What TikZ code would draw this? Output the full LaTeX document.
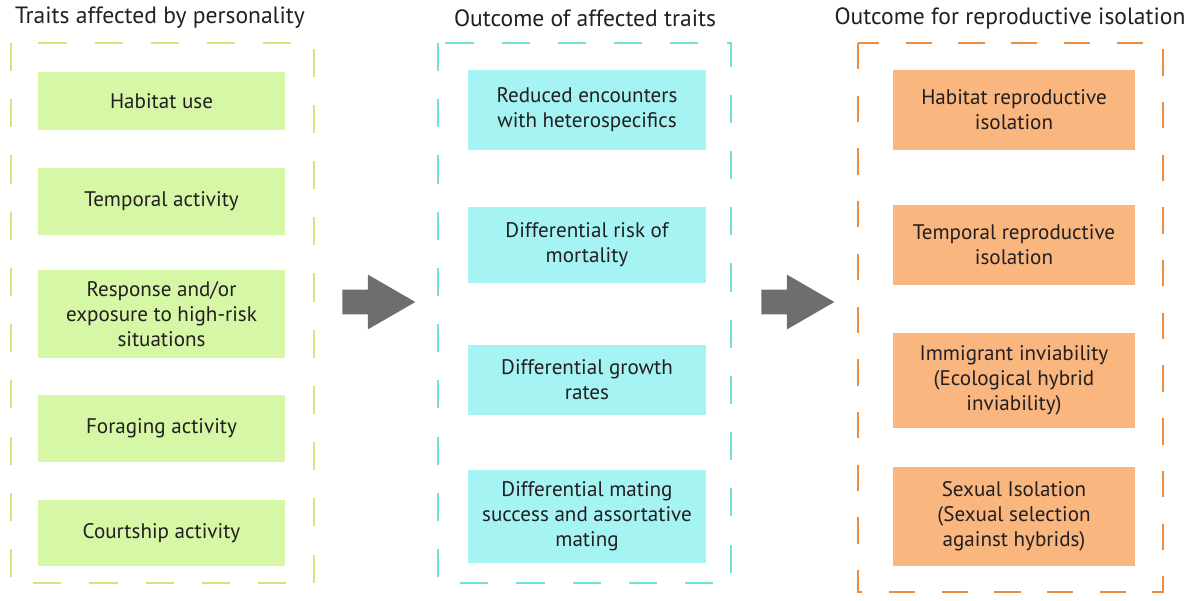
\documentclass[tikz,border=0pt]{standalone}
\usepackage{fontspec}
\setmainfont{PT Sans}
\usepackage{tikz}
\usetikzlibrary{shapes.arrows,positioning}
\definecolor{Ink}{HTML}{231F20}
\definecolor{Leaf}{HTML}{D6F7A6}
\definecolor{LeafLine}{HTML}{CFE77C}
\definecolor{Aqua}{HTML}{A6F3F3}
\definecolor{AquaLine}{HTML}{72E2D9}
\definecolor{Peach}{HTML}{F9B67E}
\definecolor{PeachLine}{HTML}{EE8E3C}
\definecolor{Pointer}{HTML}{6E6E6E}
\tikzset{
  trait/.style={fill=Leaf,text=Ink,align=center,minimum width=4.94cm,inner sep=0pt,font=\fontsize{12}{14.3}\selectfont},
  effect/.style={fill=Aqua,text=Ink,align=center,minimum width=4.76cm,inner sep=0pt,font=\fontsize{12}{14.3}\selectfont},
  barrier/.style={fill=Peach,text=Ink,align=center,minimum width=4.84cm,inner sep=0pt,font=\fontsize{12}{14.3}\selectfont},
  heading/.style={text=Ink,font=\fontsize{13.4}{16}\selectfont},
  frame/.style={line width=1.2pt,dash pattern=on 16pt off 16pt},
  pointer/.style={single arrow,fill=Pointer,draw=none,anchor=tail,minimum height=1.46cm,minimum width=1.08cm,inner sep=.24cm,single arrow tip angle=60,single arrow head extend=.3cm}
}
\begin{document}
\begin{tikzpicture}[x=.02cm,y=-.02cm]
  \useasboundingbox (0,0) rectangle (1194,600);
  % column frames
  \draw[frame,draw=LeafLine] (11,43) rectangle (314,583);
  \draw[frame,draw=AquaLine] (438,43) rectangle (731,583);
  \draw[frame,draw=PeachLine,line width=1.5pt,dash pattern=on 15pt off 15pt] (858,43) rectangle (1163,592);
  % headings
  \node[heading] (traitsHead) at (160,18) {Traits affected by personality};
  \node[heading] (effectsHead) at (585,18) {Outcome of affected traits};
  \node[heading] (barriersHead) at (1010,18) {Outcome for reproductive isolation};
  % traits
  \node[trait,minimum height=1.16cm] (habitat) at (161.5,101) {Habitat use};
  \node[trait,minimum height=1.34cm] (temporal) at (161.5,201.5) {Temporal activity};
  \node[trait,minimum height=1.76cm] (risk) at (161.5,314) {Response and/or\\exposure to high-risk\\situations};
  \node[trait,minimum height=1.34cm] (foraging) at (161.5,428.5) {Foraging activity};
  \node[trait,minimum height=1.32cm] (courtship) at (161.5,533) {Courtship activity};
  % outcomes
  \node[effect,minimum height=1.6cm] (encounters) at (587,110) {Reduced encounters\\with heterospecifics};
  \node[effect,minimum height=1.52cm] (mortality) at (587,245) {Differential risk of\\mortality};
  \node[effect,minimum height=1.4cm] (growth) at (587,380) {Differential growth\\rates};
  \node[effect,minimum height=1.86cm] (mating) at (587,516.5) {Differential mating\\success and assortative\\mating};
  % isolation
  \node[barrier,minimum height=1.6cm] (habIso) at (1014,110) {Habitat reproductive\\isolation};
  \node[barrier,minimum height=1.6cm] (tempIso) at (1014,245) {Temporal reproductive\\isolation};
  \node[barrier,minimum height=1.9cm] (immIso) at (1014,380.5) {Immigrant inviability\\(Ecological hybrid\\inviability)};
  \node[barrier,minimum height=1.98cm] (sexIso) at (1014,516.5) {Sexual Isolation\\(Sexual selection\\against hybrids)};
  % arrows between columns
  \node[pointer] (toEffects) at (342,302) {};
  \node[pointer] (toBarriers) at (761,302) {};
\end{tikzpicture}
\end{document}
